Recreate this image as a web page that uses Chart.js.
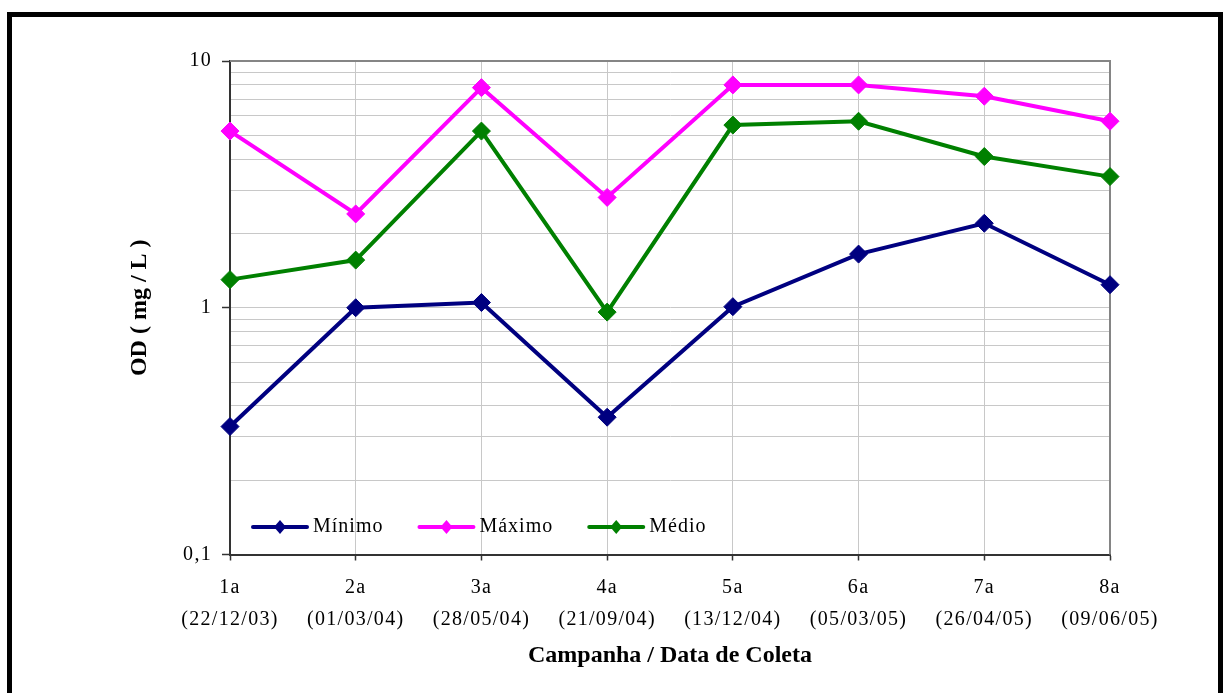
<!DOCTYPE html>
<html>
<head>
<meta charset="utf-8">
<title>OD por campanha</title>
<script src="https://cdn.jsdelivr.net/npm/chart.js@4.4.1/dist/chart.umd.min.js"></script>
<style>
  html, body { margin: 0; padding: 0; background: #fff; }
  #wrap { position: relative; width: 1223px; height: 693px; overflow: hidden; background: #fff; }
  #frame { position: absolute; left: 7px; top: 12px; width: 1216px; height: 720px;
           border: 5px solid #000; box-sizing: border-box; pointer-events: none; }
  canvas { position: absolute; left: 0; top: 0; }
</style>
</head>
<body>
<div id="wrap">
  <canvas id="c" width="1223" height="693"></canvas>
  <div id="frame"></div>
</div>
<script>
// Campanhas de coleta e respectivas datas
const campanhas = ['1a', '2a', '3a', '4a', '5a', '6a', '7a', '8a'];
const datas = ['(22/12/03)', '(01/03/04)', '(28/05/04)', '(21/09/04)',
               '(13/12/04)', '(05/03/05)', '(26/04/05)', '(09/06/05)'];

// Oxigênio dissolvido (mg/L)
const minimo = [0.33, 1.0, 1.05, 0.36, 1.01, 1.65, 2.2, 1.24];
const maximo = [5.2, 2.4, 7.8, 2.8, 8.0, 8.0, 7.2, 5.7];
const medio  = [1.3, 1.56, 5.2, 0.96, 5.5, 5.7, 4.1, 3.4];

// Marcas do eixo logarítmico
const yTicks = [0.1, 0.2, 0.3, 0.4, 0.5, 0.6, 0.7, 0.8, 0.9,
                1, 2, 3, 4, 5, 6, 7, 8, 9, 10];
const yLabels = { '0.1': '0,1', '1': '1', '10': '10' };

const FONT = '"Liberation Serif", "Times New Roman", serif';
const SPACING = '1.3px';

const isDecade = v => Math.abs(Math.log10(v) - Math.round(Math.log10(v))) < 1e-9;

const serie = (label, data, color) => ({
  label, data,
  borderColor: color, backgroundColor: color,
  borderWidth: 4,
  pointStyle: 'rectRot', pointRadius: 9, pointBorderWidth: 1,
  pointBackgroundColor: color, pointBorderColor: color,
  tension: 0, clip: false
});

const decoracao = {
  id: 'decoracao',
  beforeLayout(chart) { chart.ctx.letterSpacing = SPACING; },
  beforeDraw(chart) {
    const ctx = chart.ctx;
    ctx.save();
    ctx.fillStyle = '#fff';
    ctx.fillRect(0, 0, chart.width, chart.height);
    ctx.restore();
    ctx.letterSpacing = SPACING;
  },
  beforeDatasetsDraw(chart) {
    // contorno superior e direito da área de plotagem
    const { ctx, chartArea: a } = chart;
    ctx.save();
    ctx.strokeStyle = '#858585';
    ctx.lineWidth = 2;
    ctx.beginPath();
    ctx.moveTo(a.left, a.top);
    ctx.lineTo(a.right, a.top);
    ctx.lineTo(a.right, a.bottom);
    ctx.stroke();
    ctx.restore();
  },
  afterDatasetsDraw(chart) {
    // legenda dentro da área de plotagem
    const { ctx, chartArea: a } = chart;
    ctx.save();
    ctx.letterSpacing = '1px';
    ctx.font = '20px ' + FONT;
    ctx.textBaseline = 'middle';
    ctx.textAlign = 'left';
    const y = a.bottom - 27.5;
    let x = a.left + 23;
    chart.data.datasets.forEach(ds => {
      ctx.strokeStyle = ds.borderColor;
      ctx.lineWidth = 4;
      ctx.lineCap = 'round';
      ctx.beginPath();
      ctx.moveTo(x, y);
      ctx.lineTo(x + 54, y);
      ctx.stroke();
      ctx.fillStyle = ds.borderColor;
      ctx.beginPath();
      ctx.moveTo(x + 27, y - 7);
      ctx.lineTo(x + 33, y);
      ctx.lineTo(x + 27, y + 7);
      ctx.lineTo(x + 21, y);
      ctx.closePath();
      ctx.fill();
      ctx.fillStyle = '#000';
      ctx.fillText(ds.label, x + 60, y);
      x += 60 + ctx.measureText(ds.label).width + 36;
    });
    ctx.restore();
  },
  afterDraw(chart) {
    const { ctx, chartArea: a } = chart;
    ctx.save();
    ctx.letterSpacing = '0px';
    ctx.fillStyle = '#000';
    ctx.font = 'bold 24px ' + FONT;
    ctx.textAlign = 'center';
    ctx.textBaseline = 'middle';
    ctx.fillText('Campanha / Data de Coleta', (a.left + a.right) / 2, 656);
    ctx.translate(140, (a.top + a.bottom) / 2);
    ctx.rotate(-Math.PI / 2);
    ctx.fillText('OD ( mg / L )', 0, 0);
    ctx.restore();
  }
};

new Chart(document.getElementById('c'), {
  type: 'line',
  data: {
    labels: campanhas.map((c, i) => [c, datas[i]]),
    datasets: [
      serie('Mínimo', minimo, '#000080'),
      serie('Máximo', maximo, '#FF00FF'),
      serie('Médio', medio, '#008000')
    ]
  },
  options: {
    responsive: false,
    animation: false,
    events: [],
    layout: { padding: { top: 61, right: 113, left: 0, bottom: 0 } },
    plugins: { legend: { display: false }, tooltip: { enabled: false } },
    scales: {
      x: {
        type: 'category',
        offset: false,
        grid: { color: '#c8c8c8', lineWidth: 1, offset: false,
                drawTicks: true, tickLength: 6, tickColor: '#333', tickWidth: 1.5 },
        border: { color: '#333', width: 2 },
        ticks: { color: '#000', padding: 11, maxRotation: 0, autoSkip: false,
                 font: { family: FONT, size: 20, lineHeight: 1.6 } },
        afterFit: s => { s.height = 693 - 554.5; }
      },
      y: {
        type: 'logarithmic',
        min: 0.1, max: 10,
        afterBuildTicks: s => { s.ticks = yTicks.map(v => ({ value: v, major: isDecade(v) })); },
        grid: { color: '#c8c8c8', lineWidth: 1, drawTicks: true, tickLength: 8,
                tickWidth: 1.5,
                tickColor: c => (c.tick && isDecade(c.tick.value)) ? '#333' : 'rgba(0,0,0,0)' },
        border: { color: '#333', width: 2 },
        ticks: { color: '#000', padding: 10, autoSkip: false,
                 font: { family: FONT, size: 20 },
                 callback: v => yLabels[String(v)] || '' },
        afterFit: s => { s.width = 230; }
      }
    }
  },
  plugins: [decoracao]
});
</script>
</body>
</html>
